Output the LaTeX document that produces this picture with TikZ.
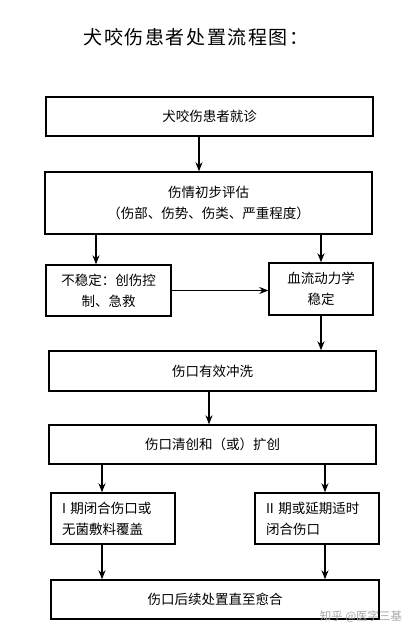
\documentclass[tikz,border=0pt]{standalone}
\usepackage{fontspec}
\newfontfamily\cjk{Noto Sans CJK SC}
\usepackage{tikz}
\usetikzlibrary{arrows.meta}
\tikzset{>=Stealth}
\tikzset{
    flowbox/.style={draw,line width=1.4pt,inner sep=0pt,align=center,
        font=\cjk\fontsize{13.5}{21}\selectfont},
    flowarrow/.style={->,line width=1.3pt,>={Stealth[length=9pt,width=7pt]}}
}

\begin{document}
\begin{tikzpicture}[x=1pt,y=-1pt]
    \useasboundingbox (0,0) rectangle (420,637);
    \node[font=\cjk\fontsize{19}{22}\selectfont\addfontfeature{LetterSpace=8}] at (196,37) (title) {犬咬伤患者处置流程图：};
    \node[flowbox,minimum width=327,minimum height=39] at (209.5,116.5) (visit) {犬咬伤患者就诊};
    \node[flowbox,minimum width=327,minimum height=62] at (208.5,203) (assess) {伤情初步评估\\（伤部、伤势、伤类、严重程度）};
    \node[flowbox,minimum width=125,minimum height=51] at (108.5,290.5) (unstable) {不稳定：创伤控\\制、急救};
    \node[flowbox,minimum width=104,minimum height=52] at (321,289) (stable) {血流动力学\\稳定};
    \node[flowbox,minimum width=327,minimum height=40] at (212.5,371) (rinse) {伤口有效冲洗};
    \node[flowbox,minimum width=327,minimum height=39] at (212.5,444.5) (debride) {伤口清创和（或）扩创};
    \node[flowbox,minimum width=124,minimum height=51,text width=102,align=left] at (113,518.5) (primary) {I 期闭合伤口或\\无菌敷料覆盖};
    \node[flowbox,minimum width=124,minimum height=51,text width=102,align=left] at (317,518.5) (delayed) {II 期或延期适时\\闭合伤口};
    \node[flowbox,minimum width=328,minimum height=39] at (215,599.5) (heal) {伤口后续处置直至愈合};
    \node[font=\cjk\fontsize{11.5}{13}\selectfont,text=black!35] at (361,617) (mark) {知乎 @医字三基};
    \draw[flowarrow] (visit.south -| 199,0) -- (assess.north -| 199,0);
    \draw[flowarrow] (assess.south -| 96,0) -- (unstable.north -| 96,0);
    \draw[flowarrow] (assess.south -| stable.north) -- (stable.north);
    \draw[flowarrow] (unstable.east) -- (unstable.east -| stable.west);
    \draw[flowarrow] (stable.south) -- (stable.south |- rinse.north);
    \draw[flowarrow] (rinse.south -| 209,0) -- (debride.north -| 209,0);
    \draw[flowarrow] (debride.south -| 102,0) -- (primary.north -| 102,0);
    \draw[flowarrow] (debride.south -| 325,0) -- (delayed.north -| 325,0);
    \draw[flowarrow] (primary.south -| 102,0) -- (heal.north -| 102,0);
    \draw[flowarrow] (delayed.south -| 325,0) -- (heal.north -| 325,0);
\end{tikzpicture}
\end{document}
